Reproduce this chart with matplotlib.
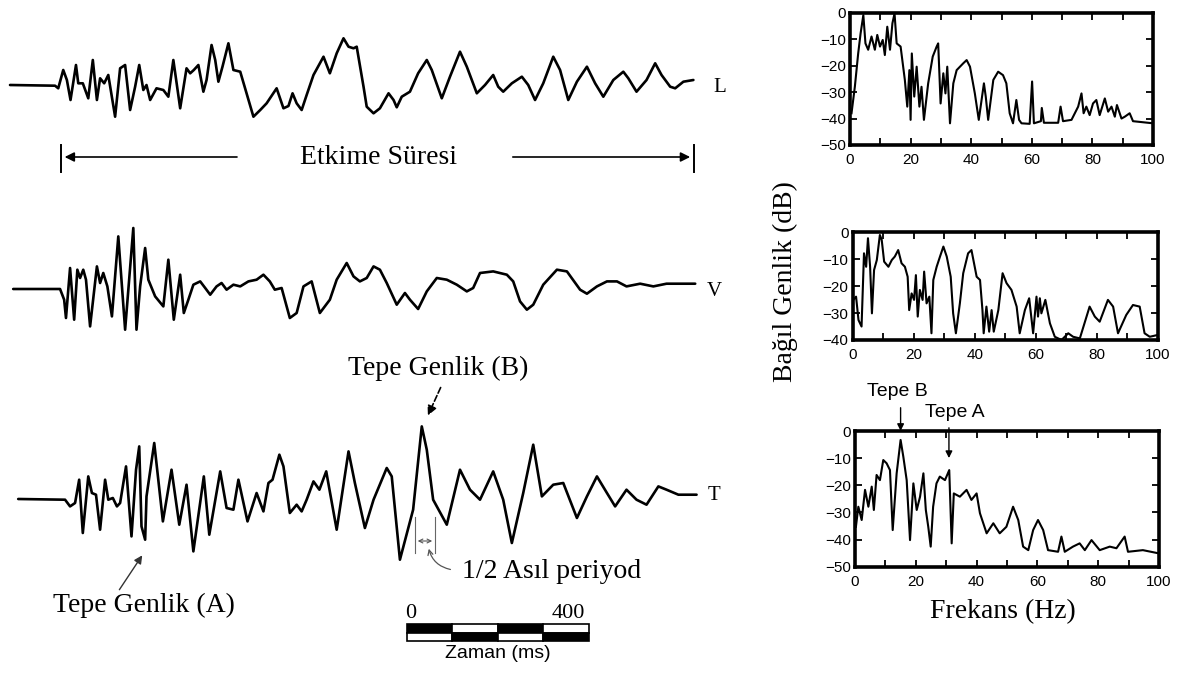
import numpy as np
import matplotlib.pyplot as plt
from matplotlib.ticker import MultipleLocator

SERIF = ['Liberation Serif', 'DejaVu Serif']
SANS = ['Liberation Sans', 'DejaVu Sans']

# ---------------------------------------------------------------- dalga formlari
# zaman (ms, kaydin basindan) ve genlik (keyfi birim)
L_t = [0, 99, 106, 117, 125, 133, 145, 150, 160, 172, 182, 191, 198, 207, 216, 231, 242, 253,
       264, 275, 284, 293, 300, 308, 322, 337, 348, 359, 374, 388, 396, 404, 414, 425, 432, 443,
       451, 458, 467, 480, 491, 506, 535, 550, 564, 586, 601, 612, 621, 630, 641, 652, 667, 689,
       703, 718, 733, 744, 755, 762, 777, 784, 799, 813, 832, 843, 850, 861, 879, 897, 916, 927,
       949, 967, 989, 1004, 1026, 1044, 1062, 1073, 1084, 1103, 1125, 1139, 1154, 1172, 1194,
       1209, 1227, 1246, 1268, 1286, 1304, 1326, 1348, 1359, 1377, 1399, 1418, 1432, 1451, 1462,
       1480, 1502]
L_a = [0, -0.7, -3.3, 15, 5, -15, 20, 1.7, 1.7, -13.3, 25, -15, 6.7, 1.7, 10, -31.7, 16.7, 20,
       -25, -1.7, 20, -5, 0, -15, -3.3, -5, -11.7, 25, -23.3, 16.7, 11.7, 15, 20, -6.7, 5, 40,
       25, 3.3, 18.3, 41.7, 15, 13.3, -31.7, -25, -18.3, -3.3, -23.3, -21, -8.3, -18.3, -25, -10,
       10, 28.3, 11.7, 31.7, 46.7, 38.3, 36.7, 38.3, -1.7, -21.7, -28.3, -23.3, -8.3, -15, -22.3,
       -11.7, -6.7, 11.7, 25, 15, -13.3, 8.3, 33.3, 18.3, -8.3, 0, 10, -1.7, -6.7, 1.7, 8.3, 0,
       -15, 1.7, 28.3, 15, -15, 3.3, 18.3, 1.7, -11.7, 5, 13.3, 6.7, -6.7, 5, 21.7, 10, -1.7,
       -3.3, 3.3, 5]

V_t = [7, 110, 119, 123, 132, 141, 148, 154, 161, 167, 176, 191, 198, 205, 214, 224, 238, 253,
       271, 278, 286, 297, 304, 319, 337, 348, 360, 374, 382, 392, 403, 418, 429, 440, 454, 465,
       476, 491, 506, 524, 542, 557, 571, 582, 597, 615, 630, 645, 663, 681, 703, 718, 740, 755,
       769, 784, 799, 813, 828, 850, 868, 879, 897, 916, 938, 960, 982, 1004, 1018, 1033, 1062,
       1092, 1106, 1121, 1136, 1150, 1172, 1202, 1224, 1253, 1268, 1290, 1312, 1334, 1355, 1385,
       1414, 1443, 1506]
V_a = [0, 0, -10.7, -29, 21, -30.7, 19.3, 11, 19.3, 9.3, -37.4, 22.6, 6, 16, 2.6, -27.4, 52.6,
       -40.7, 61, -40.7, 2.6, 41, 9.3, -7.4, -17.4, 29.3, -30.7, 14.3, -24, -10.7, 4.3, 7.6, 1,
       -5.7, 2.6, 6, -0.7, 4.3, 2.6, 7.6, 9.3, 14.3, 7.6, -0.7, 1, -29, -24, 2.6, 7.6, -24,
       -10.7, 9.3, 26, 12.6, 7.6, 11, 22.6, 19.3, 6, -15.7, -4, -10.7, -20, -2.4, 11, 9.3, 4.3,
       -2.4, 1, 16, 17.6, 14.3, 7.6, -12.4, -20.7, -15.7, 4.3, 19.3, 17.6, -0.7, -4.7, 2.6, 7.6,
       7.6, 2.6, 5.3, 2.6, 5.3, 5.3]

T_t = [18, 121, 132, 143, 152, 160, 172, 180, 189, 198, 209, 216, 226, 235, 242, 255, 267, 277,
       284, 289, 297, 300, 317, 336, 355, 372, 388, 403, 426, 438, 462, 476, 491, 502, 522, 542,
       557, 568, 577, 592, 601, 615, 630, 641, 652, 667, 680, 695, 718, 744, 758, 780, 799, 828,
       839, 857, 886, 905, 916, 930, 960, 989, 1011, 1033, 1062, 1084, 1103, 1128, 1150, 1169,
       1194, 1216, 1246, 1268, 1290, 1312, 1330, 1355, 1377, 1399, 1425, 1443, 1469, 1509]
T_a = [0, -0.7, -7.4, -4, 19.3, -34, 22.6, 6, 4.3, -30.7, 19.3, -0.7, 1, -7.4, -4, 32.6, -37.4,
       29.3, 52.6, -27.4, -40.7, 2.6, 56, -22.4, 29.3, -25.7, 14.3, -52.4, 22.6, -35.7, 27.6, -9,
       -10.7, 19.3, -22.4, 6, -12.4, 16, 19.3, 44.3, 32.6, -14, -5.7, -12.4, -0.7, 17.6, 9.3,
       27.6, -30.7, 47.6, 16, -29, -0.7, 31, 22.6, -60.7, -10.7, 72.6, 49.3, -0.7, -25.7, 29.3,
       9.3, -0.7, 27.6, -0.7, -44, 6, 54.3, 2.6, 14.3, 16, -19, 2.6, 22.6, 6, -7.4, 9.3, -0.7,
       -5.7, 12.6, 9.3, 4.3, 4.3]

trace_names = ['L', 'V', 'T']
trace_base = [590, 386, 176]

# ---------------------------------------------------------------- spektrumlar
S1_f = [0.5, 1.6, 2.7, 3.5, 4.4, 5.1, 6.0, 7.1, 8.2, 9.0, 9.9, 10.8, 11.5, 12.3, 13.2, 14.0, 14.7,
        15.4, 16.7, 18.1, 18.9, 19.6, 20.0, 20.4, 21.2, 22.0, 22.9, 23.6, 24.4, 25.8, 27.3, 28.6,
        29.1, 29.9, 30.8, 31.5, 32.1, 33.0, 34.1, 35.2, 37.4, 38.5, 39.6, 41.2, 42.5, 44.2, 44.8,
        45.6, 47.3, 48.9, 50.5, 51.6, 52.7, 53.8, 54.9, 55.8, 56.6, 59.3, 60.1, 60.7, 63.0, 63.3,
        64.0, 68.7, 69.5, 70.3, 73.1, 74.2, 75.3, 76.4, 77.1, 78.0, 79.1, 80.2, 81.3, 82.4, 84.1,
        85.2, 86.3, 87.4, 88.1, 89.6, 90.7, 92.3, 93.4, 100]
S1_db = [-38, -28, -15.4, -7.8, -0.9, -11.6, -14, -9, -14, -8.4, -12.8, -10.3, -16, -5.3, -14,
         -4, -0.3, -11.6, -12.8, -25.4, -35.5, -21.7, -40.5, -15.4, -31.7, -20.4, -35.5, -28,
         -40.5, -26.7, -16.6, -12.8, -11.6, -34.3, -22.9, -30.5, -20.4, -41.8, -26.7, -21.7, -19.1,
         -17.9, -20.4, -30.5, -40.5, -26.7, -31.7, -40.5, -25.4, -22.3, -23.6, -26.7, -38, -41.8,
         -33, -40.5, -41.8, -42, -26, -41.8, -41, -36, -41.6, -41.6, -35.5, -41, -40.5, -38, -35.5,
         -30.5, -38, -35.5, -38.7, -34.3, -33, -38.7, -32.4, -37.4, -35.5, -39.3, -34.9, -40,
         -39.3, -38, -41, -41.8]

S2_f = [0.2, 1.1, 1.9, 2.9, 3.7, 4.4, 5.0, 5.7, 6.3, 7.0, 7.9, 8.9, 9.5, 10.3, 11.7, 12.8, 13.8,
        14.9, 16.0, 17.1, 18.0, 18.5, 19.3, 20.1, 20.7, 21.3, 22.0, 22.9, 23.4, 24.2, 25.1, 25.8,
        26.4, 27.5, 28.6, 29.7, 30.8, 32.1, 32.9, 33.8, 35.1, 36.2, 37.8, 38.9, 40.6, 41.7, 42.5,
        42.9, 43.8, 44.7, 45.5, 46.2, 47.7, 49.1, 50.4, 52.0, 53.7, 54.7, 56.4, 57.8, 59.1, 60.2,
        60.7, 61.3, 61.8, 63.1, 64.6, 66.2, 68.4, 70.6, 72.2, 74.4, 77.6, 79.3, 80.9, 83.6, 85.3,
        86.9, 89.6, 91.8, 94.0, 95.6, 97.3, 100]
S2_db = [-25.1, -23.9, -32.6, -35, -7.8, -12.8, -2.2, -12.8, -30.1, -14, -10.3, -1, -2.8, -10.9,
         -12.8, -10.3, -9, -6.6, -11.5, -12.8, -16.5, -28.9, -22.7, -25.1, -15.9, -31.3, -21.4,
         -25.1, -14.6, -26.4, -23.9, -37.5, -17.7, -12.8, -9, -5.3, -9, -16.5, -30.1, -37.5,
         -26.4, -15.2, -7.8, -6.6, -16.5, -17.7, -28.9, -37.5, -27.6, -36.9, -28.9, -36.9, -28.9,
         -15.2, -18.9, -21.4, -27.6, -37.5, -28.9, -24.5, -37.5, -23.9, -31.3, -24.5, -30.1,
         -25.1, -33.8, -38.8, -40, -37.5, -38.8, -39.4, -27.6, -31.3, -33.2, -25.1, -27.6, -37.5,
         -30.7, -27, -27.6, -37.5, -38.8, -38.1]

S3_f = [0.3, 1.1, 2.2, 3.3, 4.4, 5.5, 6.2, 7.1, 8.2, 9.3, 10.4, 11.5, 12.4, 13.7, 15.0, 15.9,
        17.0, 18.1, 19.2, 20.3, 21.4, 22.5, 23.3, 24.1, 24.9, 25.7, 26.8, 27.9, 29.6, 31.0, 31.8,
        32.5, 34.5, 36.7, 38.3, 40.0, 41.1, 43.3, 45.5, 47.6, 49.8, 52.0, 53.7, 55.3, 57.0, 58.6,
        60.2, 61.9, 63.5, 66.8, 67.9, 69.0, 71.7, 73.9, 75.6, 77.8, 80.5, 83.8, 86.0, 88.7, 89.8,
        94.7, 100]
S3_db = [-35.3, -27.9, -32.8, -21.7, -27.9, -20.5, -29.1, -16.2, -18.1, -10.7, -11.9, -14.4,
         -36.5, -15.6, -3.3, -9.5, -18.1, -40.2, -19.3, -29.1, -24.2, -15.6, -29.1, -35.3, -42.6,
         -27.9, -19.3, -16.8, -18.1, -14.4, -41.4, -23, -24.2, -21.7, -25.4, -23, -30.3, -37.7,
         -34, -37.7, -35.3, -27.9, -32.8, -42.6, -43.9, -36.5, -32.8, -36.5, -43.9, -44.5, -38.9,
         -44.5, -42.6, -41.4, -43.9, -40.2, -43.9, -42.6, -43.2, -38.9, -44.5, -43.9, -45.1]

spectra = [(S1_f, S1_db, -50), (S2_f, S2_db, -40), (S3_f, S3_db, -50)]
tepe_B = (15.0, -1.0)
tepe_A = (30.9, -11.0)

# olcek cubugu (ms)
scale_start = 872
scale_step = 100
scale_n = 4

fig = plt.figure(figsize=(11.89, 6.75), dpi=100)

# ---------------------------------------------------------------- sol taraf
ax = fig.add_axes([0, 0, 760 / 1189, 1])
ax.set_xlim(-22, 1648.4)
ax.set_ylim(0, 675)
ax.axis('off')

for t, a, base in zip([L_t, V_t, T_t], [L_a, V_a, T_a], trace_base):
    ax.plot(t, np.array(a) + base, color='black', lw=1.9, solid_joinstyle='round',
            solid_capstyle='round')

for name, base, tx, dy in zip(trace_names, trace_base, [1560, 1549, 1547], [-2, -2, 3]):
    ax.text(tx, base + dy, name, family=SERIF, fontsize=15, ha='center', va='center')

# Etkime Suresi
ax.annotate('', xy=(114, 518), xytext=(505, 518),
            arrowprops=dict(arrowstyle='-|>', color='black', lw=1.2, mutation_scale=14))
ax.annotate('', xy=(1501, 518), xytext=(1099, 518),
            arrowprops=dict(arrowstyle='-|>', color='black', lw=1.2, mutation_scale=14))
ax.plot([112, 112], [503, 530], color='black', lw=1.4)
ax.plot([1503, 1503], [503, 530], color='black', lw=1.4)
ax.text(809, 517, 'Etkime Süresi', family=SERIF, fontsize=20, ha='center', va='center')

# Tepe Genlik (B)
ax.text(941, 307, 'Tepe Genlik (B)', family=SERIF, fontsize=20, ha='center', va='center')
ax.annotate('', xy=(916, 257), xytext=(949, 290),
            arrowprops=dict(arrowstyle='-|>', color='black', lw=1.2, ls='--', mutation_scale=14))

# Tepe Genlik (A)
ax.text(294, 70, 'Tepe Genlik (A)', family=SERIF, fontsize=20, ha='center', va='center')
ax.annotate('', xy=(294, 122), xytext=(237, 83),
            arrowprops=dict(arrowstyle='-|>', color='#333333', lw=1.0, mutation_scale=12))

# 1/2 Asil periyod
ax.plot([890, 890], [122, 158], color='#666666', lw=0.8)
ax.plot([934, 934], [122, 158], color='#666666', lw=0.8)
ax.annotate('', xy=(890, 134), xytext=(934, 134),
            arrowprops=dict(arrowstyle='<->', color='#555555', lw=0.8, mutation_scale=7))
ax.annotate('', xy=(919, 129), xytext=(974, 105),
            arrowprops=dict(arrowstyle='->', color='#555555', lw=0.9, mutation_scale=9,
                            connectionstyle='arc3,rad=-0.35'))
ax.text(993, 103, '1/2 Asıl periyod', family=SERIF, fontsize=20, ha='left', va='center')

# olcek cubugu
seg_x = [scale_start + i * scale_step for i in range(scale_n)]
top_c = ['black' if i % 2 == 0 else 'white' for i in range(scale_n)]
bot_c = ['white' if i % 2 == 0 else 'black' for i in range(scale_n)]
ax.bar(seg_x, 8.3, width=scale_step, bottom=42.4, align='edge', color=top_c,
       edgecolor='black', lw=1.2)
ax.bar(seg_x, 8.4, width=scale_step, bottom=34, align='edge', color=bot_c,
       edgecolor='black', lw=1.2)
ax.text(scale_start + 8, 62, '0', family=SERIF, fontsize=16, ha='center', va='center')
ax.text(scale_start + scale_n * scale_step - 8, 62, '400', family=SERIF, fontsize=16,
        ha='right', va='center')
ax.text(scale_start + scale_n * scale_step / 2, 22, 'Zaman (ms)', family=SANS, fontsize=14,
        ha='center', va='center')

# ---------------------------------------------------------------- sag taraf
boxes = [[850 / 1189, 1 - 145 / 675, 303 / 1189, 132.3 / 675],
         [852.7 / 1189, 1 - 340 / 675, 305.3 / 1189, 107.7 / 675],
         [855 / 1189, 1 - 566.7 / 675, 304 / 1189, 135.7 / 675]]
spec_axes = []
for box, (f, db, ymin) in zip(boxes, spectra):
    sa = fig.add_axes(box)
    sa.plot(f, db, color='black', lw=1.5)
    sa.set_xlim(0, 100)
    sa.set_ylim(ymin, 0)
    sa.xaxis.set_major_locator(MultipleLocator(20))
    sa.xaxis.set_minor_locator(MultipleLocator(10))
    sa.yaxis.set_major_locator(MultipleLocator(10))
    sa.tick_params(which='both', direction='in', top=True, right=True, width=1.3,
                   labelsize=11, length=5)
    sa.tick_params(axis='x', pad=6)
    sa.tick_params(axis='y', pad=3)
    for lab in sa.get_xticklabels() + sa.get_yticklabels():
        lab.set_family(SANS)
    for sp in sa.spines.values():
        sp.set_linewidth(2.6)
    spec_axes.append(sa)

s3 = spec_axes[2]
s3.annotate('', xy=tepe_B, xytext=(tepe_B[0], 9.6), annotation_clip=False,
            arrowprops=dict(arrowstyle='-|>', color='black', lw=1.0, mutation_scale=10))
s3.text(14.1, 14.4, 'Tepe B', family=SANS, fontsize=14, ha='center', va='center')
s3.annotate('', xy=tepe_A, xytext=(tepe_A[0], 2.2), annotation_clip=False,
            arrowprops=dict(arrowstyle='-|>', color='black', lw=1.0, mutation_scale=10))
s3.text(32.9, 7.0, 'Tepe A', family=SANS, fontsize=14, ha='center', va='center')

fig.text(785 / 1189, 1 - 282 / 675, 'Bağıl Genlik (dB)', family=SERIF, fontsize=20,
         rotation=90, ha='center', va='center')
fig.text(1003 / 1189, 1 - 612 / 675, 'Frekans (Hz)', family=SERIF, fontsize=20,
         ha='center', va='center')

fig.savefig('out.png', dpi=100)
